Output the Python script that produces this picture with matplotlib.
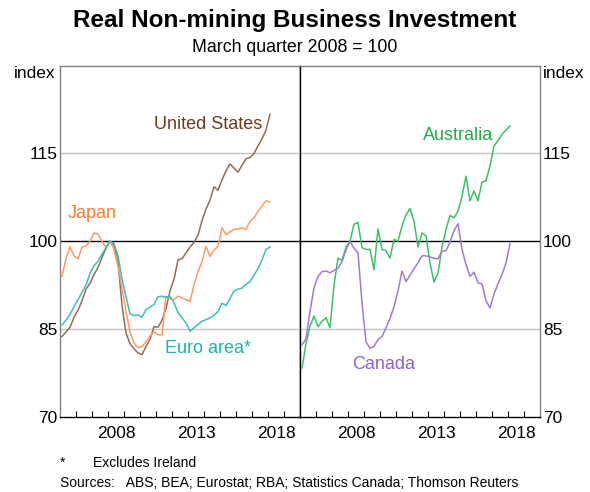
import numpy as np
import matplotlib.pyplot as plt

# quarterly, March quarter 2005 to March quarter 2018
quarters = np.arange(2005 + 0.125, 2018 + 0.25, 0.25)

united_states = [83.7, 84.5, 85.3, 87.0, 88.2, 89.8, 91.8, 92.8, 94.3, 95.5, 97.2, 98.8,
                 100.0, 99.3, 96.5, 89.0, 84.3, 82.5, 81.6, 80.9, 80.6, 82.0, 83.2, 85.4,
                 85.3, 86.5, 88.5, 91.5, 93.5, 96.8, 97.0, 98.0, 99.0, 99.8, 101.0, 103.5,
                 105.5, 107.0, 109.3, 108.7, 110.5, 112.0, 113.2, 112.5, 111.8, 113.0, 114.1, 114.3,
                 115.0, 116.3, 117.5, 119.0, 121.7]
japan = [94.0, 97.0, 99.1, 97.5, 97.0, 99.0, 99.2, 100.0, 101.4, 101.2, 100.0, 98.9,
         100.0, 98.6, 95.7, 92.0, 88.0, 84.5, 82.6, 81.8, 82.0, 82.8, 83.8, 84.5,
         84.0, 84.0, 90.6, 90.2, 90.0, 90.6, 90.3, 90.0, 89.7, 92.5, 94.8, 96.5,
         99.1, 97.4, 98.5, 99.1, 102.3, 101.1, 101.6, 102.0, 102.1, 102.3, 102.0, 103.4,
         104.0, 105.1, 106.0, 106.9, 106.7]
euro_area = [85.7, 86.5, 87.5, 88.8, 90.0, 91.3, 92.5, 94.5, 95.8, 96.6, 97.8, 98.9,
             100.0, 99.6, 97.5, 93.5, 90.5, 87.6, 87.3, 87.4, 87.0, 88.3, 88.7, 89.2,
             90.5, 90.6, 90.4, 90.6, 89.5, 87.8, 86.9, 86.0, 84.6, 85.2, 85.8, 86.3,
             86.6, 86.9, 87.3, 88.0, 89.4, 89.0, 90.2, 91.5, 91.8, 92.0, 92.6, 93.1,
             94.2, 95.3, 96.8, 98.6, 99.0]
australia = [78.3, 82.5, 85.5, 87.2, 85.4, 86.3, 86.9, 85.2, 92.5, 97.1, 96.7, 99.0,
             100.0, 102.9, 103.2, 98.9, 98.6, 98.6, 95.1, 102.1, 98.6, 98.4, 97.1, 100.3,
             100.0, 102.6, 104.5, 105.6, 103.4, 99.0, 101.4, 100.9, 96.3, 93.0, 94.6, 99.0,
             102.0, 104.4, 104.0, 105.1, 107.7, 111.1, 106.9, 108.6, 106.9, 110.1, 110.3, 112.9,
             116.3, 117.2, 118.3, 119.0, 119.7]
canada = [82.3, 83.3, 88.0, 92.0, 94.0, 94.8, 94.9, 94.6, 95.0, 95.4, 96.5, 98.5,
          100.0, 98.8, 98.0, 89.5, 82.8, 81.7, 82.0, 83.2, 83.7, 85.2, 86.8, 88.8,
          91.5, 94.9, 93.1, 94.2, 95.3, 96.3, 97.5, 97.5, 97.3, 97.1, 97.0, 98.3,
          98.4, 99.8, 101.8, 103.0, 98.6, 96.0, 94.0, 94.7, 92.9, 92.7, 89.8, 88.6,
          91.0, 92.7, 94.3, 96.3, 99.6]

plt.rcParams['font.family'] = ['Liberation Sans', 'DejaVu Sans']

fig = plt.figure(figsize=(5.9, 4.92), dpi=100)
ax1 = fig.add_axes([60 / 590, 1 - 416.7 / 492, 240 / 590, 351 / 492])
ax2 = fig.add_axes([300 / 590, 1 - 416.7 / 492, 240 / 590, 351 / 492])

for ax in (ax1, ax2):
    ax.set_xlim(2005, 2020)
    ax.set_ylim(70, 130)
    ax.set_yticks([70, 85, 100, 115])
    for v in (85, 115):
        ax.axhline(v, color='#c4c4c4', lw=1, zorder=1)
    ax.axhline(100, color='black', lw=1, zorder=1)
    ax.set_xticks(np.arange(2006, 2020))
    ax.set_xticklabels([])
    ax.set_xticks([2008.5, 2013.5, 2018.5], minor=True)
    ax.set_xticklabels(['2008', '2013', '2018'], minor=True, fontsize=12.5)
    ax.tick_params(axis='x', which='major', direction='in', length=4.5, width=0.8)
    ax.tick_params(axis='x', which='minor', length=0, pad=7)
    ax.tick_params(axis='y', length=0, labelsize=12.5, pad=2)
    for s in ax.spines.values():
        s.set_color('#808080')
        s.set_linewidth(1)
    ax.spines['bottom'].set_color('black')

ax1.spines['right'].set_color('black')
ax2.spines['left'].set_color('black')
ax2.yaxis.tick_right()
ax2.tick_params(axis='y', labelleft=False, labelright=True)

ax1.plot(quarters, united_states, color='#9a6a55', lw=1.1, zorder=3)
ax1.plot(quarters, japan, color='#ff9a62', lw=1.1, zorder=3)
ax1.plot(quarters, euro_area, color='#3cc0ba', lw=1.1, zorder=3)
ax2.plot(quarters, australia, color='#3cc068', lw=1.1, zorder=3)
ax2.plot(quarters, canada, color='#a07ad2', lw=1.1, zorder=3)

lab = dict(fontsize=13, ha='center', va='center')
ax1.text(2014.25, 120.0, 'United States', color='#6e3a1e', **lab)
ax1.text(2007.0, 104.8, 'Japan', color='#ff7a33', **lab)
ax1.text(2014.25, 81.6, 'Euro area*', color='#1fb3ad', **lab)
ax2.text(2014.9, 118.0, 'Australia', color='#1fae4a', **lab)
ax2.text(2010.25, 79.0, 'Canada', color='#9060c8', **lab)

fig.text(0.5, 1 - 20 / 492, 'Real Non-mining Business Investment', ha='center', va='center',
         fontsize=17.5, fontweight='bold')
fig.text(0.5, 1 - 47 / 492, 'March quarter 2008 = 100', ha='center', va='center', fontsize=12.8)
fig.text(55 / 590, 1 - 73 / 492, 'index', ha='right', va='center', fontsize=12.4)
fig.text(543 / 590, 1 - 73 / 492, 'index', ha='left', va='center', fontsize=12.4)
fig.text(60 / 590, 1 - 463 / 492, '*', ha='left', va='center', fontsize=10)
fig.text(93 / 590, 1 - 463 / 492, 'Excludes Ireland', ha='left', va='center', fontsize=10)
fig.text(60 / 590, 1 - 483 / 492, 'Sources:   ABS; BEA; Eurostat; RBA; Statistics Canada; Thomson Reuters',
         ha='left', va='center', fontsize=10)

fig.savefig('out.png', dpi=100)
